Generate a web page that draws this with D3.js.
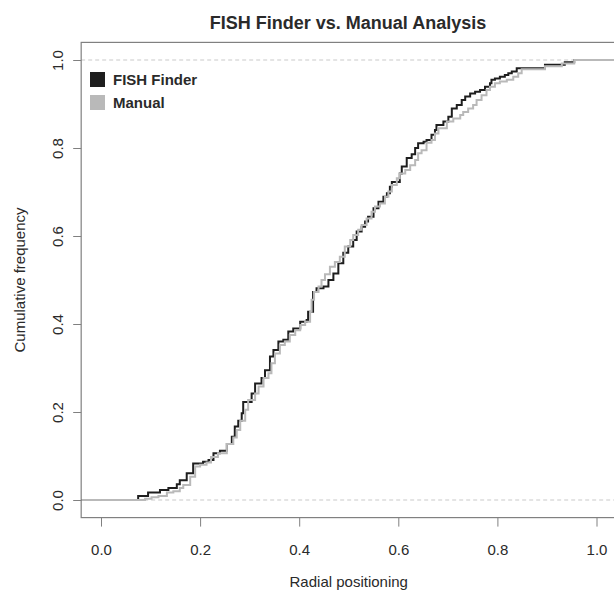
<!DOCTYPE html>
<html><head><meta charset="utf-8">
<script src="https://cdn.jsdelivr.net/npm/d3@7/dist/d3.min.js"></script>
<style>body{margin:0;background:#fff}svg{display:block}text{font-family:"Liberation Sans",Arial,sans-serif;fill:#2a2a2a}</style>
</head><body>
<script>
const title = "FISH Finder vs. Manual Analysis";
const xLabel = "Radial positioning";
const yLabel = "Cumulative frequency";
const seriesNames = ["FISH Finder", "Manual"];
const xTicks = [0, 0.2, 0.4, 0.6, 0.8, 1.0];
const yTicks = [0, 0.2, 0.4, 0.6, 0.8, 1.0];
const fishFinder = [[0.075,0.009],[0.095,0.017],[0.119,0.023],[0.136,0.027],[0.153,0.036],[0.159,0.045],[0.173,0.061],[0.186,0.083],[0.206,0.087],[0.217,0.091],[0.227,0.106],[0.240,0.112],[0.254,0.127],[0.264,0.144],[0.270,0.167],[0.277,0.180],[0.284,0.197],[0.287,0.223],[0.304,0.242],[0.311,0.265],[0.324,0.277],[0.331,0.295],[0.341,0.326],[0.348,0.341],[0.358,0.360],[0.368,0.364],[0.378,0.383],[0.388,0.390],[0.402,0.405],[0.415,0.409],[0.418,0.428],[0.428,0.473],[0.435,0.481],[0.449,0.485],[0.459,0.500],[0.469,0.515],[0.479,0.538],[0.489,0.562],[0.499,0.576],[0.509,0.591],[0.516,0.610],[0.526,0.621],[0.533,0.633],[0.539,0.644],[0.550,0.663],[0.560,0.678],[0.570,0.689],[0.577,0.697],[0.583,0.712],[0.587,0.723],[0.603,0.742],[0.607,0.758],[0.617,0.777],[0.627,0.786],[0.634,0.800],[0.640,0.811],[0.651,0.814],[0.657,0.818],[0.667,0.830],[0.674,0.841],[0.677,0.852],[0.691,0.860],[0.701,0.871],[0.708,0.890],[0.718,0.898],[0.728,0.909],[0.735,0.917],[0.745,0.924],[0.755,0.928],[0.765,0.932],[0.775,0.939],[0.785,0.947],[0.788,0.955],[0.795,0.958],[0.805,0.962],[0.815,0.966],[0.822,0.970],[0.829,0.974],[0.839,0.981],[0.896,0.989],[0.936,0.995],[0.955,1.0]];
const manual = [[0.089,0.003],[0.102,0.006],[0.116,0.009],[0.133,0.017],[0.146,0.020],[0.159,0.027],[0.166,0.034],[0.180,0.053],[0.190,0.076],[0.200,0.080],[0.213,0.085],[0.222,0.098],[0.236,0.106],[0.254,0.127],[0.267,0.142],[0.274,0.159],[0.281,0.180],[0.291,0.205],[0.297,0.227],[0.311,0.242],[0.318,0.258],[0.328,0.277],[0.338,0.288],[0.344,0.311],[0.351,0.333],[0.361,0.352],[0.371,0.360],[0.381,0.375],[0.392,0.386],[0.402,0.398],[0.412,0.405],[0.422,0.428],[0.425,0.455],[0.430,0.473],[0.439,0.485],[0.445,0.500],[0.452,0.513],[0.462,0.530],[0.472,0.541],[0.482,0.553],[0.492,0.576],[0.503,0.591],[0.509,0.602],[0.519,0.614],[0.526,0.625],[0.536,0.640],[0.546,0.655],[0.553,0.667],[0.563,0.674],[0.573,0.689],[0.580,0.701],[0.587,0.716],[0.597,0.731],[0.603,0.742],[0.614,0.750],[0.624,0.761],[0.634,0.773],[0.640,0.788],[0.647,0.795],[0.657,0.812],[0.667,0.818],[0.674,0.833],[0.681,0.845],[0.698,0.860],[0.711,0.867],[0.725,0.875],[0.731,0.882],[0.741,0.890],[0.751,0.898],[0.758,0.909],[0.768,0.920],[0.778,0.932],[0.785,0.939],[0.795,0.947],[0.805,0.951],[0.819,0.955],[0.832,0.962],[0.842,0.970],[0.849,0.979],[0.896,0.986],[0.930,0.992],[0.955,1.0]];
const colors = ["#1e1e1e", "#b9b9b9"];

const W = 614, H = 594;
const svg = d3.select("body").append("svg").attr("width", W).attr("height", H);
const x = d3.scaleLinear().domain([0, 1]).range([101, 596.5]);
const y = d3.scaleLinear().domain([0, 1]).range([500, 60]);
const pad = 0.04;
const x0 = x(-pad), x1 = x(1 + pad), yTop = y(1 + pad), yBot = y(-pad);

svg.append("clipPath").attr("id", "c").append("rect")
  .attr("x", x0).attr("y", yTop).attr("width", x1 - x0).attr("height", yBot - yTop);
const plot = svg.append("g").attr("clip-path", "url(#c)");

plot.selectAll(".ref").data([0, 1]).enter().append("line")
  .attr("x1", x0).attr("x2", x1).attr("y1", d => y(d)).attr("y2", d => y(d))
  .attr("stroke", "#c9c9c9").attr("stroke-width", 1).attr("stroke-dasharray", "4,3");

const line = d3.line().x(d => x(d[0])).y(d => y(d[1])).curve(d3.curveStepAfter);
[fishFinder, manual].forEach((s, i) => {
  const pts = [[-pad, 0]].concat(s, [[1 + pad, s[s.length - 1][1]]]);
  plot.append("path").datum(pts).attr("d", line)
    .attr("fill", "none").attr("stroke", colors[i]).attr("stroke-width", 2);
});

svg.append("rect").attr("x", x0).attr("y", yTop).attr("width", x1 - x0).attr("height", yBot - yTop)
  .attr("fill", "none").attr("stroke", "#808080").attr("stroke-width", 1.2);

const xa = svg.append("g").attr("transform", `translate(0,${yBot})`)
  .call(d3.axisBottom(x).tickValues(xTicks).tickSize(9).tickPadding(18).tickFormat(d3.format(".1f")));
xa.select(".domain").remove();
xa.selectAll("line").attr("stroke", "#808080");
xa.selectAll("text").attr("font-size", 15).attr("fill", "#2a2a2a");

const ya = svg.append("g").attr("transform", `translate(${x0},0)`)
  .call(d3.axisLeft(y).tickValues(yTicks).tickSize(8).tickFormat(d3.format(".1f")));
ya.select(".domain").remove();
ya.selectAll("line").attr("stroke", "#808080");
ya.selectAll("text").attr("font-size", 15).attr("fill", "#2a2a2a")
  .attr("text-anchor", "middle").attr("dy", null).attr("x", null)
  .attr("transform", "translate(-24,0) rotate(-90)").attr("dominant-baseline", "central");

svg.append("text").attr("x", 348).attr("y", 29).attr("text-anchor", "middle")
  .attr("font-size", 18).attr("font-weight", "bold").text(title);
svg.append("text").attr("x", (x(0) + x(1)) / 2).attr("y", 587).attr("text-anchor", "middle")
  .attr("font-size", 15).text(xLabel);
svg.append("text").attr("transform", `translate(25,${(yTop + yBot) / 2}) rotate(-90)`)
  .attr("text-anchor", "middle").attr("font-size", 15).text(yLabel);

const lg = svg.append("g");
seriesNames.forEach((n, i) => {
  lg.append("rect").attr("x", 90).attr("y", 72 + i * 23).attr("width", 15).attr("height", 15).attr("fill", colors[i]);
  lg.append("text").attr("x", 113).attr("y", 79.5 + i * 23).attr("dominant-baseline", "central")
    .attr("font-size", 15).attr("font-weight", "bold").text(n);
});
</script>
</body></html>
